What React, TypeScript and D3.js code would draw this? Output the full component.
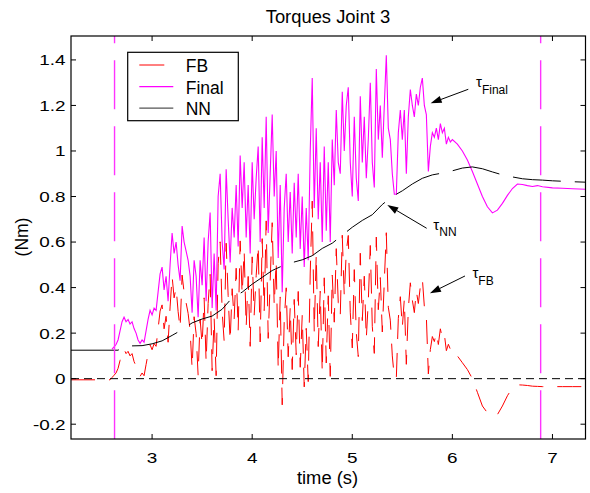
import React from 'react';
import * as d3 from 'd3';

const W = 590;
const H = 493;
const PLOT = { left: 71, right: 585.5, top: 36, bottom: 439 };
const X_DOMAIN: [number, number] = [2.19, 7.33];
const Y_DOMAIN: [number, number] = [-0.265, 1.505];

const xTicks = [3, 4, 5, 6, 7];
const xTickLabels = ['3', '4', '5', '6', '7'];
const yTicks = [-0.2, 0, 0.2, 0.4, 0.6, 0.8, 1.0, 1.2, 1.4];
const yTickLabels = ['-0.2', '0', '0.2', '0.4', '0.6', '0.8', '1', '1.2', '1.4'];

// Fast-sampled part (every 0.02 s from 2.60 s to 6.00 s)
const FAST_T0 = 2.6;
const FAST_DT = 0.02;

const finalFast = [
  0.13, 0.14, 0.15, 0.17, 0.21, 0.25, 0.27, 0.25, 0.26, 0.24,
  0.25, 0.22, 0.20, 0.17, 0.155, 0.17, 0.16, 0.21, 0.26, 0.30,
  0.28, 0.31, 0.30, 0.38, 0.46, 0.49, 0.39, 0.45, 0.34, 0.50,
  0.64, 0.55, 0.60, 0.50, 0.43, 0.67, 0.60, 0.56, 0.52, 0.45,
  0.29, 0.52, 0.45, 0.27, 0.52, 0.41, 0.62, 0.34, 0.60, 0.73,
  0.31, 0.55, 0.30, 0.80, 0.90, 0.60, 0.48, 0.92, 0.70, 0.51,
  0.75, 0.62, 0.85, 0.58, 0.98, 0.75, 0.95, 0.62, 0.85, 0.55,
  0.95, 0.70, 0.88, 1.02, 0.60, 1.06, 0.75, 1.15, 0.64, 0.90,
  1.16, 0.80, 1.00, 0.53, 0.85, 0.38, 0.75, 0.90, 0.60, 0.82,
  0.55, 0.86, 0.62, 0.90, 0.57, 0.80, 0.49, 0.75, 0.52, 1.00,
  1.32, 0.75, 1.10, 0.70, 0.95, 0.60, 1.02, 0.65, 0.95, 0.60,
  1.05, 0.85, 1.18, 0.95, 0.90, 1.26, 1.00, 1.20, 1.28, 0.95,
  0.80, 1.15, 0.88, 0.78, 1.24, 0.95, 1.15, 0.88, 1.05, 1.30,
  0.95, 0.84, 1.36, 1.05, 1.20, 0.97, 1.20, 1.42, 1.10, 1.05,
  0.90, 0.81, 0.81, 1.08, 1.18, 1.05, 1.18, 0.90, 1.15, 1.27,
  1.20, 1.15, 1.25, 1.20, 1.28, 1.32, 1.20, 1.16, 0.91, 1.02,
  1.08, 1.06, 1.10, 1.05, 1.12, 1.08, 1.10, 1.03, 1.06, 1.04,
  1.05,
];

const fbFast = [
  0.005, 0.015, 0.025, 0.045, 0.08, 0.115, 0.13, 0.11, 0.12, 0.10,
  0.11, 0.075, 0.055, 0.025, 0.01, 0.025, 0.013, 0.062, 0.11, 0.149,
  0.127, 0.154, 0.142, 0.219, 0.297, 0.324, 0.219, 0.274, 0.16, 0.315,
  0.45, 0.355, 0.40, 0.295, 0.22, 0.455, 0.379, 0.333, 0.287, 0.211,
  0.045, 0.272, 0.198, 0.015, 0.261, 0.148, 0.355, 0.073, 0.33, 0.458,
  0.035, 0.269, 0.013, 0.507, 0.601, 0.295, 0.165, 0.595, 0.365, 0.165,
  0.395, 0.26, 0.485, 0.21, 0.605, 0.37, 0.563, 0.226, 0.449, 0.142,
  0.535, 0.279, 0.453, 0.587, 0.161, 0.615, 0.299, 0.693, 0.177, 0.431,
  0.685, 0.321, 0.517, 0.043, 0.359, -0.115, 0.252, 0.399, 0.096, 0.313,
  0.04, 0.348, 0.105, 0.383, 0.05, 0.278, -0.036, 0.221, -0.013, 0.464,
  0.78, 0.204, 0.547, 0.141, 0.384, 0.028, 0.443, 0.069, 0.364, 0.01,
  0.455, 0.248, 0.571, 0.334, 0.277, 0.63, 0.363, 0.556, 0.629, 0.292,
  0.135, 0.479, 0.203, 0.097, 0.551, 0.255, 0.45, 0.175, 0.34, 0.585,
  0.23, 0.111, 0.622, 0.303, 0.444, 0.205, 0.428, 0.641, 0.314, 0.257,
  0.10, 0.005, 0.0, 0.265, 0.36, 0.225, 0.349, 0.063, 0.307, 0.421,
  0.345, 0.29, 0.385, 0.33, 0.405, 0.44, 0.317, 0.274, 0.021, 0.128,
  0.185, 0.163, 0.202, 0.15, 0.219, 0.177, 0.195, 0.123, 0.151, 0.129,
  0.137,
];

// Slow part (after 6 s)
const slowT = [6.05, 6.1, 6.15, 6.2, 6.25, 6.3, 6.35, 6.4, 6.45, 6.5, 6.55, 6.6, 6.65, 6.7, 6.75, 6.8, 6.85, 6.9, 7.0, 7.1, 7.2, 7.33];
const finalSlow = [1.03, 1.0, 0.96, 0.91, 0.855, 0.8, 0.755, 0.728, 0.74, 0.77, 0.805, 0.835, 0.855, 0.853, 0.848, 0.844, 0.848, 0.843, 0.838, 0.836, 0.834, 0.832];
const fbSlow = [0.1, 0.07, 0.04, 0.0, -0.06, -0.12, -0.15, -0.165, -0.158, -0.12, -0.075, -0.04, -0.027, -0.028, -0.03, -0.033, -0.034, -0.035, -0.035, -0.035, -0.035, -0.035];

// FB before the motion starts
const fbLeadT = [2.19, 2.58];
const fbLead = [-0.005, -0.005];

// NN torque (smooth)
const nnT = [2.19, 2.66, 2.72, 2.8, 2.9, 3.0, 3.1, 3.2, 3.3, 3.4, 3.5, 3.6, 3.7, 3.8, 3.9, 4.0, 4.1, 4.2, 4.3, 4.4, 4.5, 4.6, 4.7, 4.8, 4.9, 5.0, 5.1, 5.2, 5.3, 5.4, 5.5, 5.6, 5.7, 5.8, 5.9, 6.0, 6.1, 6.2, 6.3, 6.4, 6.5, 6.6, 6.7, 6.8, 6.9, 7.0, 7.1, 7.2, 7.33];
const nnV = [0.125, 0.125, 0.14, 0.144, 0.145, 0.153, 0.166, 0.19, 0.215, 0.245, 0.262, 0.275, 0.305, 0.355, 0.38, 0.415, 0.445, 0.475, 0.495, 0.51, 0.522, 0.54, 0.572, 0.595, 0.63, 0.665, 0.695, 0.72, 0.765, 0.8, 0.825, 0.855, 0.88, 0.895, 0.903, 0.913, 0.925, 0.93, 0.922, 0.908, 0.895, 0.886, 0.878, 0.874, 0.872, 0.869, 0.867, 0.865, 0.863];

// Event markers
const markerT = [2.625, 6.882];

// Annotations: [tailT, tailV, headT, headV, labelT, labelV, subscript]
const annotations = [
  { tail: [6.159, 1.271], head: [5.783, 1.2095], label: [6.236, 1.28], sub: 'Final' },
  { tail: [5.743, 0.6605], head: [5.35, 0.763], label: [5.81, 0.653], sub: 'NN' },
  { tail: [6.126, 0.451], head: [5.776, 0.375], label: [6.2, 0.442], sub: 'FB' },
];

const legendItems = [
  { label: 'FB', color: '#ff0000', len: 25, width: 1 },
  { label: 'Final', color: '#ff00ff', len: 34, width: 1.3 },
  { label: 'NN', color: '#555555', len: 34, width: 1.2 },
];

const FONT = '"Liberation Sans", Arial, Helvetica, sans-serif';

export default function App() {
  const x = d3.scaleLinear().domain(X_DOMAIN).range([PLOT.left, PLOT.right]);
  const y = d3.scaleLinear().domain(Y_DOMAIN).range([PLOT.bottom, PLOT.top]);
  const line = d3
    .line<[number, number]>()
    .x((d) => x(d[0]))
    .y((d) => y(d[1]));

  const finalPts: [number, number][] = [
    ...finalFast.map((v, i) => [FAST_T0 + i * FAST_DT, v] as [number, number]),
    ...finalSlow.map((v, i) => [slowT[i], v] as [number, number]),
  ];
  const fbPts: [number, number][] = [
    ...fbLead.map((v, i) => [fbLeadT[i], v] as [number, number]),
    ...fbFast.map((v, i) => [FAST_T0 + i * FAST_DT, v] as [number, number]),
    ...fbSlow.map((v, i) => [slowT[i], v] as [number, number]),
  ];
  const nnPts: [number, number][] = nnV.map((v, i) => [nnT[i], v] as [number, number]);

  const tick = 5;
  const legendBox = { x: 127.7, y: 52.3, w: 110.6, h: 68.4 };

  return (
    <svg
      width={W}
      height={H}
      style={{ position: 'absolute', left: 0, top: 0, background: '#fff' }}
      fontFamily={FONT}
    >
      <rect x={0} y={0} width={W} height={H} fill="#fff" />
      <defs>
        <clipPath id="plotclip">
          <rect x={PLOT.left} y={PLOT.top} width={PLOT.right - PLOT.left} height={PLOT.bottom - PLOT.top} />
        </clipPath>
      </defs>

      <g clipPath="url(#plotclip)">
        <path d={line(fbPts) || ''} fill="none" stroke="#ff0000" strokeWidth={1} strokeDasharray="24,14" />
        <path d={line(finalPts) || ''} fill="none" stroke="#ff00ff" strokeWidth={1.1} />
        <path d={line(nnPts) || ''} fill="none" stroke="#000" strokeWidth={1} strokeDasharray="48,14" />
        <line
          x1={PLOT.left}
          x2={PLOT.right}
          y1={y(0)}
          y2={y(0)}
          stroke="#000"
          strokeWidth={1}
          strokeDasharray="8,5"
        />
        {markerT.map((t, i) => (
          <line
            key={i}
            x1={x(t)}
            x2={x(t)}
            y1={PLOT.top}
            y2={PLOT.bottom}
            stroke="#ff33ff"
            strokeWidth={1.4}
            strokeDasharray="49,17"
            strokeDashoffset={41.7}
          />
        ))}
      </g>

      {/* axes box */}
      <rect
        x={PLOT.left}
        y={PLOT.top}
        width={PLOT.right - PLOT.left}
        height={PLOT.bottom - PLOT.top}
        fill="none"
        stroke="#000"
        strokeWidth={1.2}
      />
      {xTicks.map((t, i) => (
        <g key={'xt' + i}>
          <line x1={x(t)} x2={x(t)} y1={PLOT.bottom} y2={PLOT.bottom - tick} stroke="#000" />
          <line x1={x(t)} x2={x(t)} y1={PLOT.top} y2={PLOT.top + tick} stroke="#000" />
          <text
            transform={`translate(${x(t)},463) scale(1.22,1)`}
            textAnchor="middle"
            fontSize={15.5}
            fill="#000"
          >
            {xTickLabels[i]}
          </text>
        </g>
      ))}
      {yTicks.map((v, i) => (
        <g key={'yt' + i}>
          <line x1={PLOT.left} x2={PLOT.left + tick} y1={y(v)} y2={y(v)} stroke="#000" />
          <line x1={PLOT.right} x2={PLOT.right - tick} y1={y(v)} y2={y(v)} stroke="#000" />
          <text
            transform={`translate(65.5,${y(v) + 5.4}) scale(1.22,1)`}
            textAnchor="end"
            fontSize={15.5}
            fill="#000"
          >
            {yTickLabels[i]}
          </text>
        </g>
      ))}

      {/* title and axis labels */}
      <text transform="translate(328,22.5) scale(1.05,1)" textAnchor="middle" fontSize={17.5} fill="#000">
        Torques Joint 3
      </text>
      <text transform="translate(327.5,484) scale(1.05,1)" textAnchor="middle" fontSize={17.5} fill="#000">
        time (s)
      </text>
      <text transform="translate(27.5,237) rotate(-90)" textAnchor="middle" fontSize={17.5} fill="#000">
        (Nm)
      </text>

      {/* legend */}
      <rect
        x={legendBox.x}
        y={legendBox.y}
        width={legendBox.w}
        height={legendBox.h}
        fill="#fff"
        stroke="#000"
        strokeWidth={1.2}
      />
      {legendItems.map((it, i) => {
        const ly = 65 + i * 21.6;
        return (
          <g key={'lg' + i}>
            <line x1={139.3} x2={139.3 + it.len} y1={ly} y2={ly} stroke={it.color} strokeWidth={it.width} />
            <text x={185.7} y={ly + 7.2} fontSize={17.5} fill="#000">
              {it.label}
            </text>
          </g>
        );
      })}

      {/* annotations */}
      {annotations.map((a, i) => {
        const x1 = x(a.tail[0]);
        const y1 = y(a.tail[1]);
        const x2 = x(a.head[0]);
        const y2 = y(a.head[1]);
        const ang = Math.atan2(y2 - y1, x2 - x1);
        const L = 11;
        const hw = 3.6;
        const bx = x2 - L * Math.cos(ang);
        const by = y2 - L * Math.sin(ang);
        const px = -Math.sin(ang) * hw;
        const py = Math.cos(ang) * hw;
        return (
          <g key={'an' + i}>
            <line x1={x1} y1={y1} x2={bx} y2={by} stroke="#000" strokeWidth={1} />
            <polygon
              points={`${x2},${y2} ${bx + px},${by + py} ${bx - px},${by - py}`}
              fill="#000"
            />
            <text x={x(a.label[0])} y={y(a.label[1])} fontSize={15} fill="#000">
              τ
              <tspan dy={6.5} fontSize={12}>
                {a.sub}
              </tspan>
            </text>
          </g>
        );
      })}
    </svg>
  );
}
